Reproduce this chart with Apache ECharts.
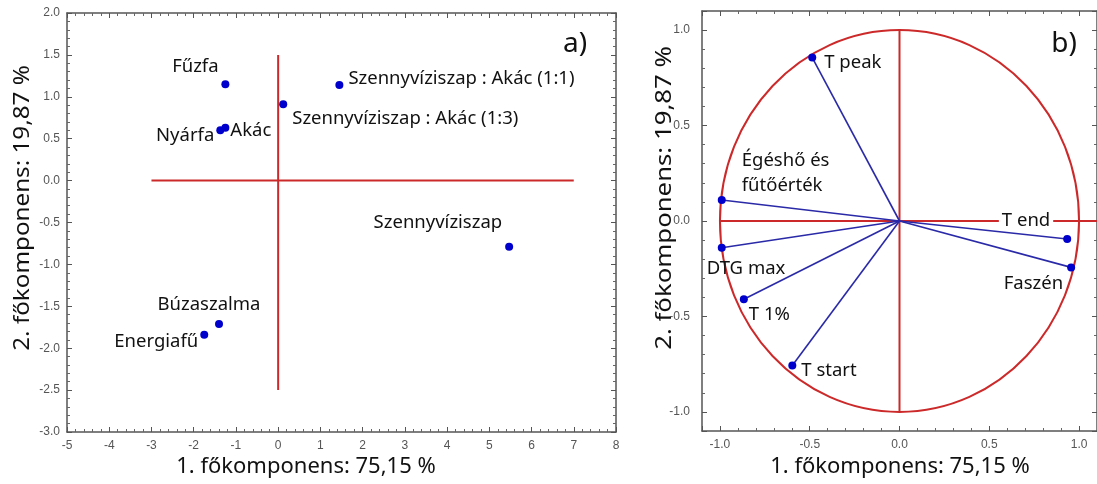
<!DOCTYPE html>
<html>
<head>
<meta charset="utf-8">
<script src="https://cdn.jsdelivr.net/npm/echarts@6/dist/echarts.min.js"></script>
<style>
html, body { margin: 0; padding: 0; background: #fff; }
#chart { width: 1097px; height: 484px; }
</style>
</head>
<body>
<div id="chart"></div>
<script>
// a) fokomponens pontszamok (minták)
var scoreNames = ['Fűzfa', 'Nyárfa', 'Akác', 'Szennyvíziszap : Akác (1:3)', 'Szennyvíziszap : Akác (1:1)', 'Szennyvíziszap', 'Búzaszalma', 'Energiafű']
var scorePC1 = [-1.25, -1.37, -1.25, 0.12, 1.45, 5.47, -1.40, -1.75]
var scorePC2 = [1.15, 0.60, 0.63, 0.91, 1.14, -0.79, -1.71, -1.84]

// b) változók (faktorsúlyok)
var loadNames = ['T peak', 'Égéshő és\nfűtőérték', 'T end', 'DTG max', 'Faszén', 'T 1%', 'T start']
var loadPC1 = [-0.486, -0.99, 0.934, -0.99, 0.956, -0.867, -0.597]
var loadPC2 = [0.856, 0.11, -0.094, -0.14, -0.243, -0.41, -0.757]

// tengely határok
var axisA_x = [-5, 8]
var axisA_y = [-3, 2]
var axisB = [-1.1, 1.1]

// vörös segédvonalak
var crossA_h = [[-3, 0], [7, 0]]
var crossA_v = [[0, -2.5], [0, 1.5]]
var crossB_h = [[-1, 0], [1.1, 0]]
var crossB_v = [[0, -1], [0, 1]]

var xTitle = '1. főkomponens: 75,15 %'
var yTitle = '2. főkomponens: 19,87 %'

// címke elhelyezés (stílus)
var scoreLabelPos = [
  { align: 'center', offset: [-30, -17] },
  { align: 'right', offset: [-6, 5] },
  { align: 'left', offset: [5, 3] },
  { align: 'left', offset: [9, 14] },
  { align: 'left', offset: [9, -6] },
  { align: 'right', offset: [-7, -24] },
  { align: 'center', offset: [-10, -19] },
  { align: 'right', offset: [-6, 7] }
]
var loadLabelPos = [
  { align: 'left', offset: [12, 5] },
  { align: 'left', offset: [20, -27] },
  { align: 'right', offset: [-14, -18], bg: true },
  { align: 'left', offset: [-15, 21] },
  { align: 'right', offset: [-8, 16] },
  { align: 'left', offset: [5, 15] },
  { align: 'left', offset: [9, 5] }
]

var RED = '#cc2a2a'
var BLUE = '#0000cc'
var TXT = '#111'
var FONT = 'Noto Sans'

function fmt1 (v) { return v.toFixed(1) }

function makeAxis (pos, gridIndex, lim, opts, labels) {
  var ax = {
    type: 'value',
    gridIndex: gridIndex,
    position: pos,
    min: lim[0],
    max: lim[1],
    scale: true,
    axisLine: { show: true, onZero: false, lineStyle: { color: '#555', width: 1.5 } },
    axisTick: { show: true, inside: true, length: 5, lineStyle: { color: '#555' } },
    minorTick: { show: true, splitNumber: 5, length: 3, lineStyle: { color: '#666' } },
    splitLine: { show: false },
    axisLabel: {
      show: labels,
      color: '#555',
      fontFamily: 'Liberation Sans',
      fontSize: 12,
      margin: 8
    }
  }
  for (var k in opts) {
    if (k === 'axisLabel') Object.assign(ax.axisLabel, opts[k])
    else ax[k] = opts[k]
  }
  return ax
}

var scoreData = scoreNames.map(function (n, i) {
  var p = scoreLabelPos[i]
  return {
    name: n,
    value: [scorePC1[i], scorePC2[i]],
    label: { align: p.align, offset: p.offset }
  }
})

var loadData = loadNames.map(function (n, i) {
  var p = loadLabelPos[i]
  var lab = { align: p.align, offset: p.offset }
  // a "T end" felirat a vörös vonalon ül, fehér háttérrel
  if (p.bg) { lab.backgroundColor = '#fff'; lab.padding = [0, 3]; lab.lineHeight = 16 }
  return { name: n, value: [loadPC1[i], loadPC2[i]], label: lab }
})

function redLine (xi, yi, pts) {
  return {
    type: 'line',
    xAxisIndex: xi,
    yAxisIndex: yi,
    data: pts,
    symbol: 'none',
    silent: true,
    z: 1,
    lineStyle: { color: RED, width: 2 }
  }
}

var titleFont = '22px "Noto Sans"'

var chart = echarts.init(document.getElementById('chart'))
var option = {
  backgroundColor: '#fff',
  animation: false,
  textStyle: { fontFamily: FONT },
  grid: [
    { left: 67, top: 13, width: 549, height: 419 },
    { left: 702, top: 11, width: 398, height: 420 }
  ],
  xAxis: [
    makeAxis('bottom', 0, axisA_x, { interval: 1 }, true),
    makeAxis('top', 0, axisA_x, { interval: 1 }, false),
    makeAxis('bottom', 1, axisB, { axisLabel: { formatter: fmt1, showMinLabel: false, showMaxLabel: false } }, true),
    makeAxis('top', 1, axisB, {}, false)
  ],
  yAxis: [
    makeAxis('left', 0, axisA_y, { interval: 0.5, axisLabel: { formatter: fmt1, margin: 7 } }, true),
    makeAxis('right', 0, axisA_y, { interval: 0.5 }, false),
    makeAxis('left', 1, axisB, { axisLabel: { formatter: fmt1, showMinLabel: false, showMaxLabel: false, margin: 12 } }, true),
    makeAxis('right', 1, axisB, {}, false)
  ],
  graphic: [
    { type: 'text', x: 306, y: 467, style: { text: xTitle, font: titleFont, fill: TXT, align: 'center', verticalAlign: 'middle' } },
    { type: 'text', x: 23, y: 208, rotation: Math.PI / 2, scaleX: 1.1, style: { text: yTitle, font: titleFont, fill: TXT, align: 'center', verticalAlign: 'middle' } },
    { type: 'text', x: 900, y: 467, style: { text: xTitle, font: titleFont, fill: TXT, align: 'center', verticalAlign: 'middle' } },
    { type: 'text', x: 665, y: 198, rotation: Math.PI / 2, scaleX: 1.17, style: { text: yTitle, font: titleFont, fill: TXT, align: 'center', verticalAlign: 'middle' } },
    { type: 'text', x: 575, y: 44, style: { text: 'a)', font: '28px "Noto Sans"', fill: TXT, align: 'center', verticalAlign: 'middle' } },
    { type: 'text', x: 1064, y: 44, style: { text: 'b)', font: '28px "Noto Sans"', fill: TXT, align: 'center', verticalAlign: 'middle' } }
  ],
  series: [
    redLine(0, 0, crossA_h),
    redLine(0, 0, crossA_v),
    redLine(2, 2, crossB_h),
    redLine(2, 2, crossB_v),
    {
      // egységkör (a tengelyek skálája miatt ellipszis)
      type: 'custom',
      xAxisIndex: 2,
      yAxisIndex: 2,
      silent: true,
      z: 1,
      data: [[0, 0, 1]],
      renderItem: function (params, api) {
        var c = api.coord([api.value(0), api.value(1)])
        var s = api.size([api.value(2), api.value(2)])
        return {
          type: 'ellipse',
          shape: { cx: c[0], cy: c[1], rx: s[0], ry: s[1] },
          style: { fill: 'none', stroke: RED, lineWidth: 2 }
        }
      }
    },
    {
      // vektorok az origóból
      type: 'custom',
      xAxisIndex: 2,
      yAxisIndex: 2,
      silent: true,
      z: 2,
      data: loadPC1.map(function (v, i) { return [v, loadPC2[i]] }),
      renderItem: function (params, api) {
        var o = api.coord([0, 0])
        var p = api.coord([api.value(0), api.value(1)])
        return {
          type: 'line',
          shape: { x1: o[0], y1: o[1], x2: p[0], y2: p[1] },
          style: { stroke: '#2a2aa8', lineWidth: 1.6 }
        }
      }
    },
    {
      type: 'scatter',
      xAxisIndex: 0,
      yAxisIndex: 0,
      z: 3,
      symbolSize: 8,
      itemStyle: { color: BLUE, opacity: 1 },
      label: {
        show: true,
        position: 'inside',
        formatter: '{b}',
        color: TXT,
        fontFamily: FONT,
        fontSize: 18.5,
        verticalAlign: 'middle'
      },
      data: scoreData
    },
    {
      type: 'scatter',
      xAxisIndex: 2,
      yAxisIndex: 2,
      z: 3,
      symbolSize: 8,
      itemStyle: { color: BLUE, opacity: 1 },
      label: {
        show: true,
        position: 'inside',
        formatter: '{b}',
        color: TXT,
        fontFamily: FONT,
        fontSize: 18.5,
        lineHeight: 25,
        verticalAlign: 'middle'
      },
      data: loadData
    }
  ]
}
chart.setOption(option)
</script>
</body>
</html>
